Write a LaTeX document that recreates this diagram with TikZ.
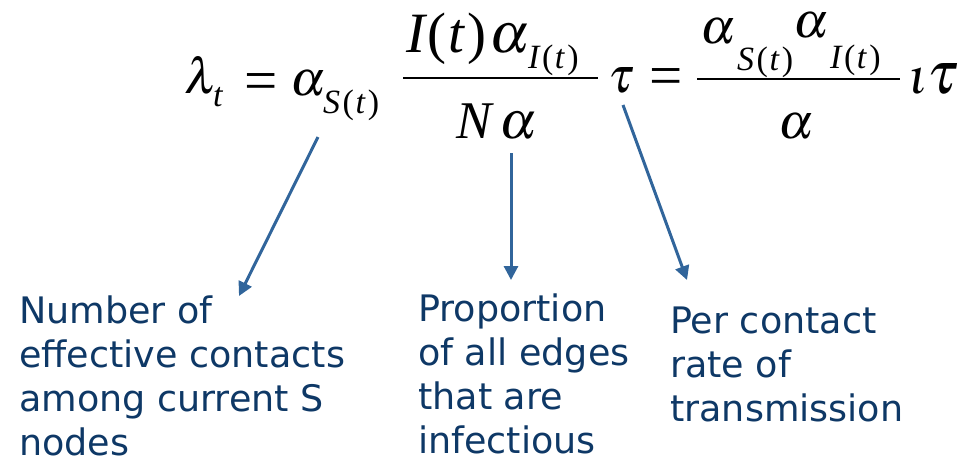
\documentclass[tikz,border=0pt]{standalone}
\usepackage{mathptmx}
\usepackage[no-math]{fontspec}
\setmainfont{DejaVu Sans}
\newfontfamily\eqfont{Liberation Serif}
\usetikzlibrary{arrows.meta}
\definecolor{arrowblue}{RGB}{49,101,155}
\definecolor{textblue}{RGB}{14,56,102}
\newcommand\upp[1]{{\upshape #1}}
\newcommand\targ[1]{#1\kern2.5pt\upp{(}\kern1.5pt t\kern3pt\upp{)}}
\begin{document}
\begin{tikzpicture}[x=1pt,y=-1pt,
  eqbig/.style={font=\eqfont\itshape\fontsize{50}{60}\selectfont, inner sep=0pt, anchor=base west},
  eqnum/.style={font=\eqfont\itshape\fontsize{57}{66}\selectfont, inner sep=0pt, anchor=base west},
  eqden/.style={font=\eqfont\itshape\fontsize{53}{60}\selectfont, inner sep=0pt, anchor=base west},
  eqsub/.style={font=\eqfont\itshape\fontsize{34}{40}\selectfont, inner sep=0pt, anchor=base west},
  eqrel/.style={font=\eqfont\fontsize{59}{66}\selectfont, inner sep=0pt, anchor=base west},
  caption/.style={font=\fontsize{36.5}{44}\selectfont, text=textblue, align=left, inner sep=0pt, anchor=base west},
  pointer/.style={draw=arrowblue, line width=3pt, -{Triangle[length=14pt,width=14pt]}},
  fracbar/.style={line width=2.5pt}]
\useasboundingbox (0,0) rectangle (965,459);
% left-hand side
\node[eqbig] (lam) at (184,93) {$\lambda$};
\node[eqsub] (lamt) at (213,106) {t};
\node[eqrel] (eq1) at (244,100) {=};
\node[eqbig] (aS) at (290,95) {$\alpha$};
\node[eqsub] (aSsub) at (323,113) {\targ{S}};
% first fraction
\node[eqnum] (numI) at (406,52) {\targ{I}};
\node[eqnum] (numA) at (489,52) {$\alpha$};
\node[eqsub] (numIsub) at (528,68) {\targ{I}};
\coordinate (bar1l) at (403,78);
\coordinate (bar1r) at (598,78);
\draw[fracbar] (bar1l) -- (bar1r);
\node[eqden] (denN) at (456,138) {N};
\node[eqden] (denA) at (499,138) {$\alpha$};
\node[eqbig] (tau1) at (608,92) {$\tau$};
\node[eqrel] (eq2) at (649,95) {=};
% second fraction
\node[eqbig] (a2) at (700,43) {$\alpha$};
\node[eqsub] (a2sub) at (737,70) {\targ{S}};
\node[eqbig] (a3) at (793,37) {$\alpha$};
\node[eqsub] (a3sub) at (830,68) {\targ{I}};
\coordinate (bar2l) at (697,79);
\coordinate (bar2r) at (900,79);
\draw[fracbar] (bar2l) -- (bar2r);
\node[eqbig] (den2) at (778,138) {$\alpha$};
\node[eqbig] (iota) at (908,93) {$\iota$};
\node[eqbig, font=\eqfont\itshape\fontsize{60}{66}\selectfont] (tau2) at (927,93) {$\tau$};
% captions
\node[caption] (cap1) at (19,455) {Number of\\effective contacts\\among current S\\nodes};
\node[caption] (cap2) at (418,453) {Proportion\\of all edges\\that are\\infectious};
\node[caption] (cap3) at (670,421) {Per contact\\rate of\\transmission};
% pointers
\coordinate (s1) at (318,137);
\coordinate (e1) at (239,296);
\coordinate (s2) at (511,153);
\coordinate (e2) at (511,280);
\coordinate (s3) at (623,105);
\coordinate (e3) at (687,280);
\draw[pointer] (s1) -- (e1);
\draw[pointer] (s2) -- (e2);
\draw[pointer] (s3) -- (e3);
\end{tikzpicture}
\end{document}
